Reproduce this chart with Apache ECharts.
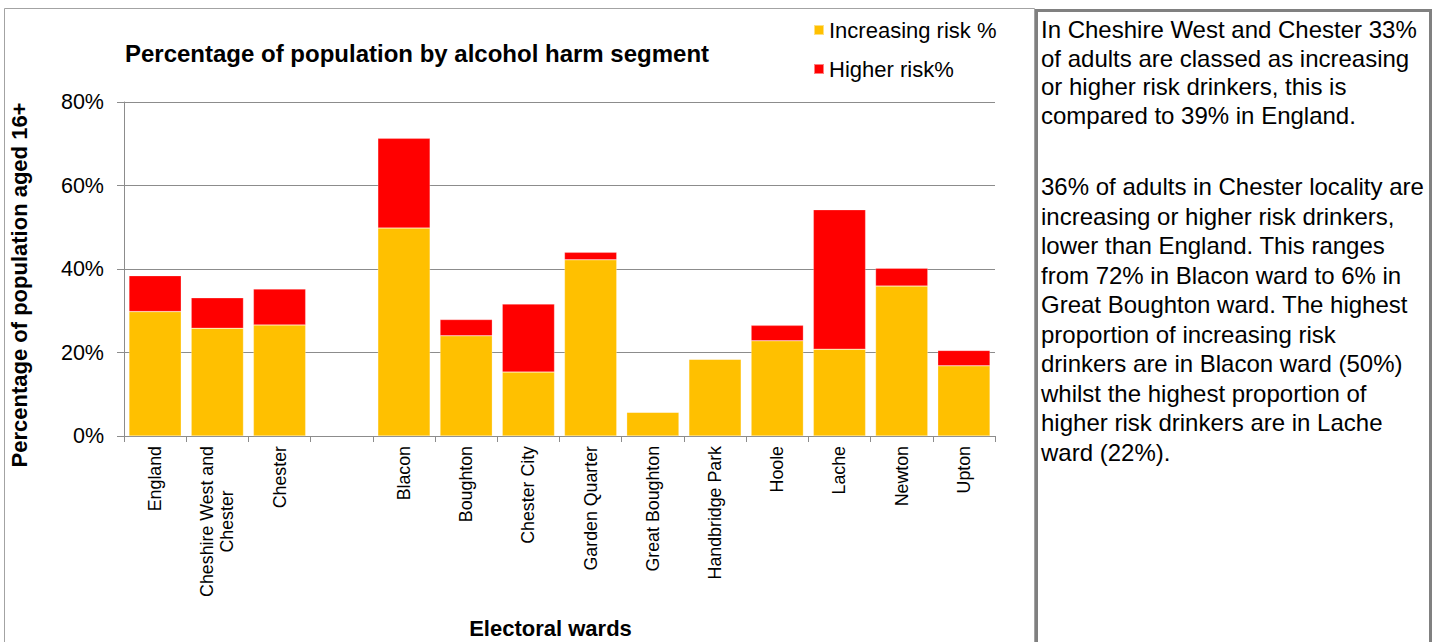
<!DOCTYPE html>
<html>
<head>
<meta charset="utf-8">
<script src="https://cdn.jsdelivr.net/npm/echarts@6/dist/echarts.min.js"></script>
<style>
  html, body { margin: 0; padding: 0; background: #fff; overflow: hidden; }
  #chart { width: 1434px; height: 642px; }
</style>
</head>
<body>
<div id="chart"></div>
<script>
// ---- data ----
const categories = ['England', 'Cheshire West and\nChester', 'Chester', '', 'Blacon', 'Boughton', 'Chester City', 'Garden Quarter', 'Great Boughton', 'Handbridge Park', 'Hoole', 'Lache', 'Newton', 'Upton'];
const increasingRisk = [29.8, 25.8, 26.6, null, 49.8, 24.0, 15.3, 42.2, 5.7, 18.4, 22.8, 20.8, 35.9, 16.8];
const higherRisk = [8.6, 7.3, 8.6, null, 21.5, 3.9, 16.3, 1.8, 0, 0, 3.7, 33.4, 4.3, 3.7];
const seriesNames = ['Increasing risk %', 'Higher risk%'];
const yTicks = [0, 20, 40, 60, 80];
const chartTitle = 'Percentage of population by alcohol harm segment';
const yAxisTitle = 'Percentage of population aged 16+';
const xAxisTitle = 'Electoral wards';
const panelPara1 = ['In Cheshire West and Chester 33%', 'of adults are classed as increasing', 'or higher risk drinkers, this is', 'compared to 39% in England.'];
const panelPara2 = ['36% of adults in Chester locality are', 'increasing or higher risk drinkers,', 'lower than England. This ranges', 'from 72% in Blacon ward to 6% in', 'Great Boughton ward. The highest', 'proportion of increasing risk', 'drinkers are in Blacon ward (50%)', 'whilst the highest proportion of', 'higher risk drinkers are in Lache', 'ward (22%).'];

const FONT = '"Liberation Sans", Arial, sans-serif';
const chart = echarts.init(document.getElementById('chart'), null, { renderer: 'svg', width: 1434, height: 642 });

chart.setOption({
  animation: false,
  backgroundColor: '#ffffff',
  title: {
    text: chartTitle,
    left: 417,
    top: 41,
    padding: 0,
    textAlign: 'center',
    textStyle: { fontFamily: FONT, fontSize: 24, fontWeight: 'bold', color: '#000' }
  },
  legend: {
    orient: 'vertical',
    left: 813,
    top: 19,
    padding: 0,
    itemWidth: 10,
    itemHeight: 10,
    itemGap: 17,
    icon: 'rect',
    data: seriesNames,
    textStyle: { fontFamily: FONT, fontSize: 22, color: '#000' }
  },
  grid: { left: 124, top: 102, width: 871, height: 334, containLabel: false, outerBoundsMode: 'none' },
  xAxis: {
    type: 'category',
    data: categories,
    name: xAxisTitle,
    nameLocation: 'middle',
    nameGap: 181,
    nameTextStyle: { fontFamily: FONT, fontSize: 22, fontWeight: 'bold', color: '#000', padding: [0, 18, 0, 0] },
    axisLine: { lineStyle: { color: '#8c8c8c', width: 1 } },
    axisTick: { show: true, length: 6, alignWithLabel: false, lineStyle: { color: '#8c8c8c' } },
    axisLabel: {
      interval: 0,
      rotate: 90,
      margin: 10,
      formatter: function (v) {
        return v.split('\n').map(function (s) { return '{c|' + s + '}'; }).join('\n');
      },
      rich: { c: { align: 'center', fontFamily: FONT, fontSize: 17.8, color: '#000', lineHeight: 20 } }
    }
  },
  yAxis: {
    type: 'value',
    min: 0,
    max: 80,
    interval: 20,
    name: yAxisTitle,
    nameLocation: 'middle',
    nameGap: 94,
    nameTextStyle: { fontFamily: FONT, fontSize: 22, fontWeight: 'bold', color: '#000', padding: [0, 32, 0, 0] },
    axisLine: { show: true, lineStyle: { color: '#8c8c8c', width: 1 } },
    axisTick: { show: true, length: 7, lineStyle: { color: '#8c8c8c' } },
    axisLabel: {
      margin: 20,
      fontFamily: FONT,
      fontSize: 21.5,
      color: '#000',
      formatter: function (v) { return yTicks.indexOf(v) >= 0 ? v + '%' : ''; }
    },
    splitLine: { show: true, lineStyle: { color: '#8c8c8c', width: 1 } }
  },
  series: [
    {
      name: seriesNames[0],
      type: 'bar',
      stack: 'risk',
      data: increasingRisk,
      barCategoryGap: '16%',
      itemStyle: { color: '#FFC000', borderColor: 'rgba(255,255,255,0.5)', borderWidth: 0.5 }
    },
    {
      name: seriesNames[1],
      type: 'bar',
      stack: 'risk',
      data: higherRisk,
      barCategoryGap: '16%',
      itemStyle: { color: '#FF0000', borderColor: 'rgba(255,255,255,0.5)', borderWidth: 0.5 }
    }
  ],
  graphic: [
    { type: 'rect', silent: true, z: -1, shape: { x: 4.5, y: 8.5, width: 1030, height: 660 }, style: { fill: null, stroke: '#a3a3a3', lineWidth: 1 } },
    { type: 'rect', silent: true, z: 10, shape: { x: 1036.5, y: 10.5, width: 394, height: 660 }, style: { fill: null, stroke: '#808080', lineWidth: 3 } },
    { type: 'text', silent: true, left: 1041, top: 15.5, style: { text: panelPara1.join('\n'), fontFamily: FONT, fontSize: 24, lineHeight: 28.5, fill: '#000' } },
    { type: 'text', silent: true, left: 1041, top: 172, style: { text: panelPara2.join('\n'), fontFamily: FONT, fontSize: 24, lineHeight: 29.5, fill: '#000' } }
  ]
});
</script>
</body>
</html>
